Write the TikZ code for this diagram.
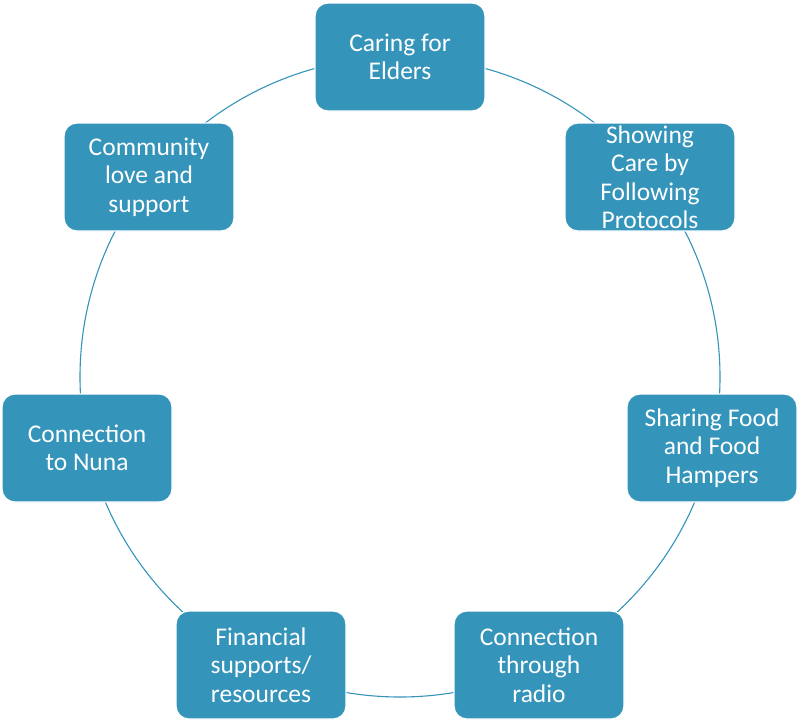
\documentclass[tikz,border=0pt]{standalone}
\usepackage{fontspec}
\setmainfont{Carlito}
\definecolor{boxblue}{HTML}{3494BA}
\begin{document}
\begin{tikzpicture}[x=1pt,y=-1pt,
  cyclebox/.style={draw=white, line width=1.2pt, fill=boxblue, rounded corners=13pt,
    minimum width=170pt, minimum height=108pt, inner sep=0pt,
    text=white, align=center, font=\fontsize{25.5}{28.5}\selectfont},
  ring/.style={draw=boxblue, line width=1.1pt}]
\useasboundingbox (0,0) rectangle (800,724);
\coordinate (c) at (400,377);
\draw[ring] (c) circle[radius=320pt];
\node[cyclebox] (n1) at (400,57) {Caring for\\Elders};
\node[cyclebox] (n2) at (650,177) {Showing\\Care by\\Following\\Protocols};
\node[cyclebox] (n3) at (712,448) {Sharing Food\\and Food\\Hampers};
\node[cyclebox] (n4) at (539,665) {Connection\\through\\radio};
\node[cyclebox] (n5) at (261,665) {Financial\\supports/\\resources};
\node[cyclebox] (n6) at (87,448) {Connection\\to Nuna};
\node[cyclebox] (n7) at (149,177) {Community\\love and\\support};
\end{tikzpicture}
\end{document}
